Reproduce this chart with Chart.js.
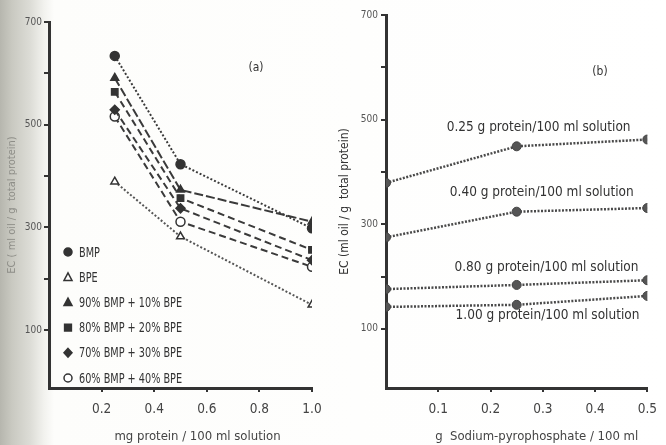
<!DOCTYPE html>
<html><head><meta charset="utf-8">
<script src="https://cdn.jsdelivr.net/npm/chart.js@4/dist/chart.umd.min.js"></script>
<style>
html,body{margin:0;padding:0;background:#fff;}
#wrap{position:relative;width:666px;height:445px;overflow:hidden;
background:linear-gradient(to right,#b6b6ae 0px,#c9c9c1 12px,#dcdcd6 30px,#f2f2ee 44px,#fdfdfb 54px,#fff 100%);}
.box{position:absolute;top:0;width:333px;height:445px;}
</style></head><body>
<div id="wrap">
<div class="box" style="left:0"><canvas id="ca" width="333" height="445"></canvas></div>
<div class="box" style="left:333px"><canvas id="cb" width="333" height="445"></canvas></div>
</div>
<script>
// ---------- Panel (a) data ----------
const proteinConc = [0.25, 0.5, 1.0];
const bmp   = [634, 423, 298];
const bpe   = [389, 282, 149];
const mix90 = [591, 373, 311];
const mix80 = [564, 357, 256];
const mix70 = [529, 337, 236];
const mix60 = [516, 311, 223];
const namesA = ["BMP", "BPE", "90% BMP + 10% BPE", "80% BMP + 20% BPE", "70% BMP + 30% BPE", "60% BMP + 40% BPE"];
const xTicksA = [0.2, 0.4, 0.6, 0.8, 1.0];

// ---------- Panel (b) data ----------
const pyrophosphate = [0, 0.25, 0.5];
const p025 = [379, 449, 462];
const p040 = [275, 324, 331];
const p080 = [176, 184, 193];
const p100 = [142, 146, 163];
const namesB = ["0.25 g protein/100 ml solution", "0.40 g protein/100 ml solution", "0.80 g protein/100 ml solution", "1.00 g protein/100 ml solution"];
const xTicksB = [0.1, 0.2, 0.3, 0.4, 0.5];

// ---------- shared ----------
const yTicks = [100, 200, 300, 400, 500, 600, 700];
const yLabelled = [100, 300, 500, 700];
const FONT = "'DejaVu Sans Condensed', 'Liberation Sans Narrow', sans-serif";
const INK = '#333';

function pts(xs, ys){ return xs.map((x,i)=>({x:x, y:ys[i]})); }

function drawMarker(ctx, style, filled, x, y, r){
  ctx.save();
  ctx.lineWidth = 1.5; ctx.strokeStyle = INK; ctx.fillStyle = filled ? INK : '#fff';
  ctx.beginPath();
  if(style==='circle'){ ctx.arc(x,y,r,0,Math.PI*2); }
  else if(style==='triangle'){ ctx.moveTo(x,y-r*1.1); ctx.lineTo(x+r,y+r*0.8); ctx.lineTo(x-r,y+r*0.8); ctx.closePath(); }
  else if(style==='rect'){ ctx.rect(x-r*0.85,y-r*0.85,r*1.7,r*1.7); }
  else if(style==='rectRot'){ ctx.moveTo(x,y-r*1.1); ctx.lineTo(x+r,y); ctx.lineTo(x,y+r*1.1); ctx.lineTo(x-r,y); ctx.closePath(); }
  ctx.fill(); ctx.stroke();
  ctx.restore();
}
function condensedText(ctx, text, x, y, sx){
  ctx.save(); ctx.translate(x, y); ctx.scale(sx, 1); ctx.fillText(text, 0, 0); ctx.restore();
}

function yScale(title, titleColor, titleSize, width, titlePad, labPad){
  return {
    type:'linear', min:-13, max:700,
    afterBuildTicks: s => { s.ticks = yTicks.map(v=>({value:v})); },
    afterFit: s => { s.width = width; },
    border:{display:true, color:INK, width:3},
    grid:{drawOnChartArea:false, drawTicks:true, tickLength:5, color:INK, lineWidth:2},
    ticks:{color:'#555', font:{family:FONT, size:10}, padding:labPad,
      callback: v => yLabelled.includes(v) ? String(v) : ''},
    title:{display:true, text:title, color:titleColor, font:{family:FONT, size:titleSize}, padding:{top:titlePad, bottom:0}}
  };
}
function xScale(max, ticks){
  return {
    type:'linear', min:0, max:max,
    afterBuildTicks: s => { s.ticks = ticks.map(v=>({value:v})); },
    afterFit: s => { s.height = 57; },
    border:{display:true, color:INK, width:3},
    grid:{drawOnChartArea:false, drawTicks:true, tickLength:4, color:INK, lineWidth:2},
    ticks:{color:'#444', font:{family:FONT, size:13.5}, padding:9, maxRotation:0,
      callback: v => Number(v).toFixed(1)}
  };
}

// ---------- Panel (a) ----------
const styleA = [
  {pt:'circle', fill:true,  dash:[2,2], color:'#3a3a3a'},
  {pt:'triangle', fill:false, dash:[2,2], color:'#555'},
  {pt:'triangle', fill:true,  dash:[9,3], color:'#3a3a3a'},
  {pt:'rect', fill:true,  dash:[7,4], color:'#3a3a3a'},
  {pt:'rectRot', fill:true,  dash:[7,4], color:'#3a3a3a'},
  {pt:'circle', fill:false, dash:[7,4], color:'#3a3a3a'}
];
const seriesA = [bmp, bpe, mix90, mix80, mix70, mix60];

const legendA = {
  id:'legendA',
  afterDraw(chart){
    const ctx = chart.ctx, ca = chart.chartArea;
    ctx.save();
    ctx.font = '14px ' + FONT; ctx.fillStyle = INK; ctx.textBaseline = 'middle';
    namesA.forEach((n,i)=>{
      const y = 252 + i*25.2, x = ca.left + 19;
      drawMarker(ctx, styleA[i].pt, styleA[i].fill, x, y, 4);
      condensedText(ctx, n, x + 11, y + 1, 0.77);
    });
    ctx.font = '12px ' + FONT; ctx.textAlign = 'center';
    ctx.fillText('(a)', 256, 68);
    ctx.font = '13px ' + FONT; ctx.fillStyle = '#444';
    ctx.fillText('mg protein / 100 ml solution', (ca.left+ca.right)/2 + 17, 437);
    ctx.restore();
  }
};

new Chart(document.getElementById('ca'), {
  type:'line',
  data:{ datasets: seriesA.map((s,i)=>({
    label:namesA[i], data:pts(proteinConc, s),
    borderColor:styleA[i].color, borderWidth:2, borderDash:styleA[i].dash,
    pointStyle:styleA[i].pt, pointRadius:4.5, pointBorderWidth:1.5,
    pointBorderColor:INK, pointBackgroundColor: styleA[i].fill ? INK : '#fff',
    tension:0, fill:false
  }))},
  options:{
    responsive:false, animation:false,
    layout:{padding:{top:22, right:21, left:0, bottom:0}},
    plugins:{legend:{display:false}, tooltip:{enabled:false}},
    scales:{
      x: xScale(1.0, xTicksA),
      y: yScale('EC ( ml oil / g  total protein)', '#8e8e88', 11, 49, 6, 2)
    }
  },
  plugins:[legendA]
});

// ---------- Panel (b) ----------
const seriesB = [p025, p040, p080, p100];
const labelPosB = [[0.292, 485], [0.298, 361], [0.307, 217], [0.309, 125]];

const labelsB = {
  id:'labelsB',
  afterDraw(chart){
    const ctx = chart.ctx, ca = chart.chartArea, sx = chart.scales.x, sy = chart.scales.y;
    ctx.save();
    ctx.font = '13.5px ' + FONT; ctx.fillStyle = INK; ctx.textAlign = 'center'; ctx.textBaseline = 'middle';
    namesB.forEach((n,i)=>{
      ctx.fillText(n, sx.getPixelForValue(labelPosB[i][0]), sy.getPixelForValue(labelPosB[i][1]));
    });
    ctx.font = '12px ' + FONT;
    ctx.fillText('(b)', 267, 72);
    ctx.font = '13px ' + FONT; ctx.fillStyle = '#444';
    ctx.fillText('g  Sodium-pyrophosphate / 100 ml', (ca.left+ca.right)/2 + 20, 437);
    ctx.restore();
  }
};

new Chart(document.getElementById('cb'), {
  type:'line',
  data:{ datasets: seriesB.map((s,i)=>({
    label:namesB[i], data:pts(pyrophosphate, s),
    borderColor:'#4a4a4a', borderWidth:2.5, borderDash:[2,1.5],
    pointStyle:'circle', pointRadius:4.5, pointBorderWidth:1,
    pointBorderColor:'#444', pointBackgroundColor:'#555',
    tension:0, fill:false
  }))},
  options:{
    responsive:false, animation:false,
    layout:{padding:{top:15, right:13, left:0, bottom:0}},
    plugins:{legend:{display:false}, tooltip:{enabled:false}},
    scales:{
      x: xScale(0.5, xTicksB),
      y: yScale('EC (ml oil / g  total protein)', '#333', 12, 53, 5, 3)
    }
  },
  plugins:[labelsB]
});
</script>
</body></html>
